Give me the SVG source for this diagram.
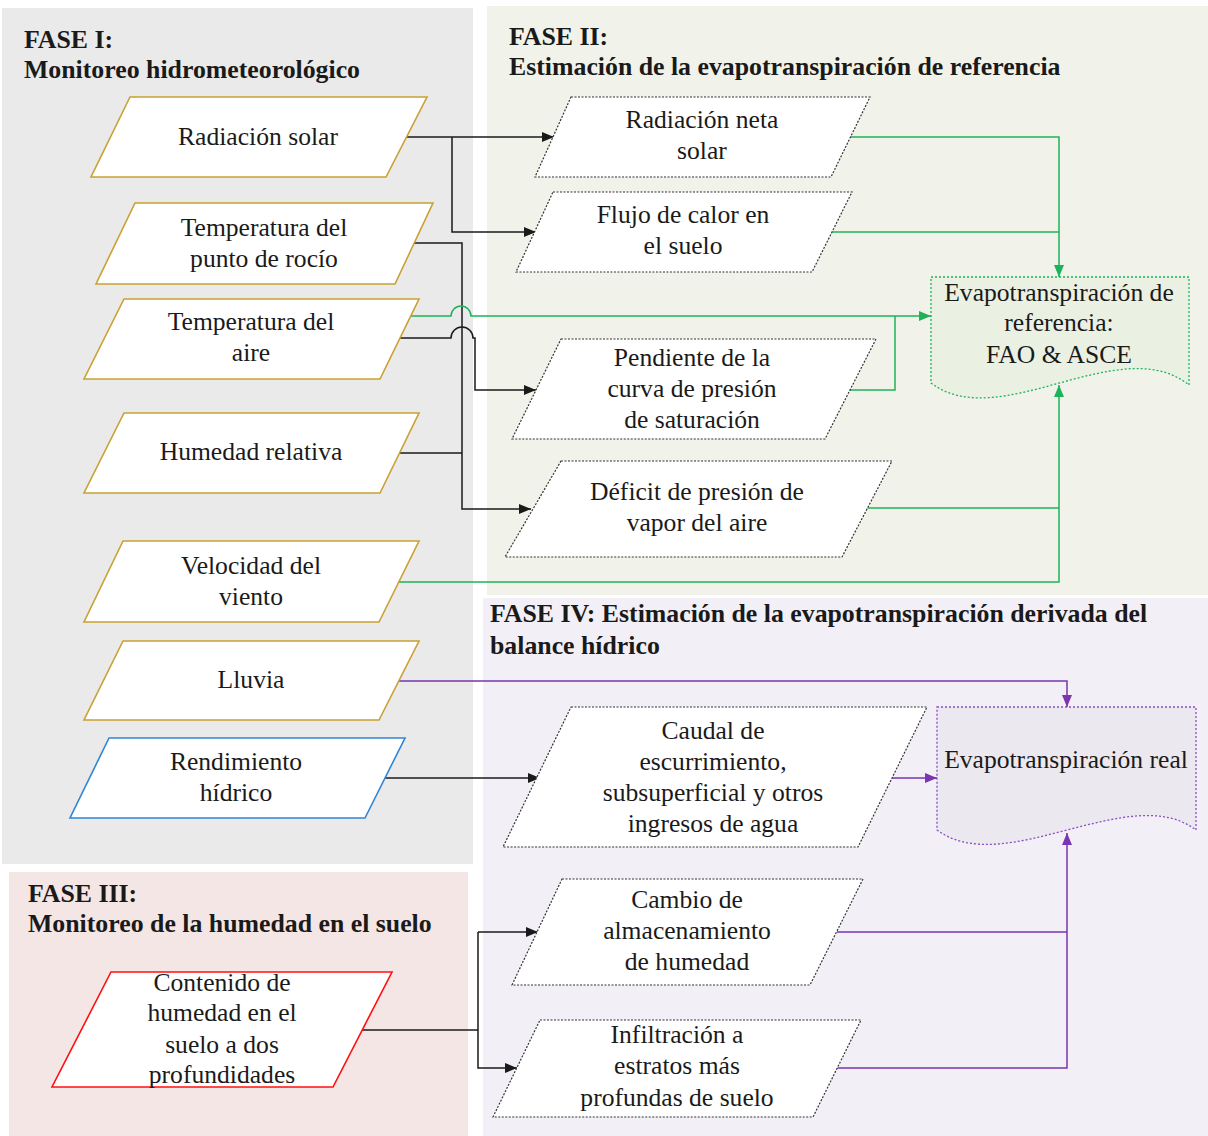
<svg xmlns="http://www.w3.org/2000/svg" width="1208" height="1136" viewBox="0 0 1208 1136">
<style>
  .title{font-family:'Liberation Serif','Times New Roman','DejaVu Serif',serif;font-weight:bold;font-size:25.8px;fill:#1a1a1a}
  .lbl{font-family:'Liberation Serif','Times New Roman','DejaVu Serif',serif;font-size:25.6px;fill:#1a1a1a;text-anchor:middle}
  .gold{fill:#fff;stroke:#C9A032;stroke-width:1.6}
  .blue{fill:#fff;stroke:#2F86D6;stroke-width:1.6}
  .red{fill:#fff;stroke:#FF1010;stroke-width:1.6}
  .dot{fill:#fff;stroke:#333;stroke-width:1.2;stroke-dasharray:2 1.5}
  .k{fill:none;stroke:#1a1a1a;stroke-width:1.5}
  .g{fill:none;stroke:#1EB35A;stroke-width:1.5}
  .p{fill:none;stroke:#7A35B0;stroke-width:1.5}
</style>
<defs>
  <marker id="ak" markerUnits="userSpaceOnUse" markerWidth="12" markerHeight="10" refX="12" refY="5" orient="auto"><path d="M0,0 L12,5 L0,10 z" fill="#1a1a1a"/></marker>
  <marker id="ag" markerUnits="userSpaceOnUse" markerWidth="12" markerHeight="10" refX="12" refY="5" orient="auto"><path d="M0,0 L12,5 L0,10 z" fill="#1EB35A"/></marker>
  <marker id="ap" markerUnits="userSpaceOnUse" markerWidth="12" markerHeight="10" refX="12" refY="5" orient="auto"><path d="M0,0 L12,5 L0,10 z" fill="#7A35B0"/></marker>
</defs>
<rect width="1208" height="1136" fill="#fff"/>
<g id="panels">
  <rect x="2" y="8" width="471" height="856" fill="#EAEAEA"/>
  <rect x="487" y="6" width="721" height="589" fill="#F1F3EA"/>
  <rect x="483" y="598" width="725" height="538" fill="#F2F0F6"/>
  <rect x="9" y="872" width="459" height="264" fill="#F5E6E6"/>
</g>
<g id="titles">
  <text class="title" x="24" y="48">FASE I:</text>
  <text class="title" x="24" y="78">Monitoreo hidrometeorológico</text>
  <text class="title" x="509" y="45">FASE II:</text>
  <text class="title" x="509" y="75">Estimación de la evapotranspiración de referencia</text>
  <text class="title" x="28" y="902">FASE III:</text>
  <text class="title" x="28" y="932">Monitoreo de la humedad en el suelo</text>
  <text class="title" x="490" y="622">FASE IV: Estimación de la evapotranspiración derivada del</text>
  <text class="title" x="490" y="654">balance hídrico</text>
</g>
<g id="connectors">
  <path class="k" d="M407,137 H554" marker-end="url(#ak)"/>
  <path class="k" d="M452,137 V232 H536" marker-end="url(#ak)"/>
  <path class="k" d="M413,243 H462 V509 H531" marker-end="url(#ak)"/>
  <path class="k" d="M400,453 H462"/>
  <path class="k" d="M399,338 H451 A11,11 0 0 1 473,338 H475 V390 H536" marker-end="url(#ak)"/>
  <path class="k" d="M384,778 H540" marker-end="url(#ak)"/>
  <path class="k" d="M362,1030 H478"/>
  <path class="k" d="M478,932 H538" marker-end="url(#ak)"/>
  <path class="k" d="M478,932 V1068 H517" marker-end="url(#ak)"/>
  <path class="g" d="M410,316 H451 A10,10 0 0 1 471,316 H931" marker-end="url(#ag)"/>
  <path class="g" d="M850,137 H1059 V277" marker-end="url(#ag)"/>
  <path class="g" d="M832,232 H1059"/>
  <path class="g" d="M849,390 H895 V316"/>
  <path class="g" d="M867,508 H1059"/>
  <path class="g" d="M399,582 H1059 V385" marker-end="url(#ag)"/>
  <path class="p" d="M399,681 H1067 V707" marker-end="url(#ap)"/>
  <path class="p" d="M892,778 H937" marker-end="url(#ap)"/>
  <path class="p" d="M837,932 H1067"/>
  <path class="p" d="M837,1068 H1067 V833" marker-end="url(#ap)"/>
</g>
<g id="n-radiacion-solar">
  <polygon class="gold" points="130,97 427,97 386,177 91,177"/>
  <text class="lbl" x="258" y="145">Radiación solar</text>
</g>
<g id="n-temp-rocio">
  <polygon class="gold" points="135,203 433,203 395,284 96,284"/>
  <text class="lbl" x="264" y="236">Temperatura del</text>
  <text class="lbl" x="264" y="267">punto de rocío</text>
</g>
<g id="n-temp-aire">
  <polygon class="gold" points="124,299 419,299 380,379 84,379"/>
  <text class="lbl" x="251" y="330">Temperatura del</text>
  <text class="lbl" x="251" y="361">aire</text>
</g>
<g id="n-humedad-relativa">
  <polygon class="gold" points="124,413 419,413 380,493 84,493"/>
  <text class="lbl" x="251" y="460">Humedad relativa</text>
</g>
<g id="n-velocidad-viento">
  <polygon class="gold" points="123,541 419,541 379,622 84,622"/>
  <text class="lbl" x="251" y="574">Velocidad del</text>
  <text class="lbl" x="251" y="605">viento</text>
</g>
<g id="n-lluvia">
  <polygon class="gold" points="123,641 419,641 379,720 84,720"/>
  <text class="lbl" x="251" y="688">Lluvia</text>
</g>
<g id="n-rendimiento">
  <polygon class="blue" points="109,738 405,738 365,818 70,818"/>
  <text class="lbl" x="236" y="770">Rendimiento</text>
  <text class="lbl" x="236" y="801">hídrico</text>
</g>
<g id="n-contenido-humedad">
  <polygon class="red" points="111,972 392,972 333,1087 52,1087"/>
  <text class="lbl" x="222" y="991">Contenido de</text>
  <text class="lbl" x="222" y="1021">humedad en el</text>
  <text class="lbl" x="222" y="1053">suelo a dos</text>
  <text class="lbl" x="222" y="1083">profundidades</text>
</g>
<g id="n-radiacion-neta">
  <polygon class="dot" points="571,97 870,97 831,177 535,177"/>
  <text class="lbl" x="702" y="128">Radiación neta</text>
  <text class="lbl" x="702" y="159">solar</text>
</g>
<g id="n-flujo-calor">
  <polygon class="dot" points="553,192 852,192 812,272 516,272"/>
  <text class="lbl" x="683" y="223">Flujo de calor en</text>
  <text class="lbl" x="683" y="254">el suelo</text>
</g>
<g id="n-pendiente">
  <polygon class="dot" points="561,339 876,339 825,439 512,439"/>
  <text class="lbl" x="692" y="366">Pendiente de la</text>
  <text class="lbl" x="692" y="397">curva de presión</text>
  <text class="lbl" x="692" y="428">de saturación</text>
</g>
<g id="n-deficit">
  <polygon class="dot" points="561,461 892,461 842,557 505,557"/>
  <text class="lbl" x="697" y="500">Déficit de presión de</text>
  <text class="lbl" x="697" y="531">vapor del aire</text>
</g>
<g id="n-evap-referencia">
  <path d="M931,277 H1189 V385 C1120,330 1000,435 931,383 Z" fill="#EBF1E2" stroke="#1EB35A" stroke-width="1.3" stroke-dasharray="2 2"/>
  <text class="lbl" x="1059" y="301">Evapotranspiración de</text>
  <text class="lbl" x="1059" y="331">referencia:</text>
  <text class="lbl" x="1059" y="363">FAO &amp; ASCE</text>
</g>
<g id="n-caudal">
  <polygon class="dot" points="571,707 927,707 858,847 503,847"/>
  <text class="lbl" x="713" y="739">Caudal de</text>
  <text class="lbl" x="713" y="770">escurrimiento,</text>
  <text class="lbl" x="713" y="801">subsuperficial y otros</text>
  <text class="lbl" x="713" y="832">ingresos de agua</text>
</g>
<g id="n-evap-real">
  <path d="M937,707 H1196 V830 C1130,780 1005,880 937,830 Z" fill="#ECE8F0" stroke="#8A4CC0" stroke-width="1.3" stroke-dasharray="2 2"/>
  <text class="lbl" x="1066" y="768">Evapotranspiración real</text>
</g>
<g id="n-cambio">
  <polygon class="dot" points="562,879 863,879 810,985 512,985"/>
  <text class="lbl" x="687" y="908">Cambio de</text>
  <text class="lbl" x="687" y="939">almacenamiento</text>
  <text class="lbl" x="687" y="970">de humedad</text>
</g>
<g id="n-infiltracion">
  <polygon class="dot" points="540,1020 861,1020 813,1117 493,1117"/>
  <text class="lbl" x="677" y="1043">Infiltración a</text>
  <text class="lbl" x="677" y="1074">estratos más</text>
  <text class="lbl" x="677" y="1106">profundas de suelo</text>
</g>
</svg>
